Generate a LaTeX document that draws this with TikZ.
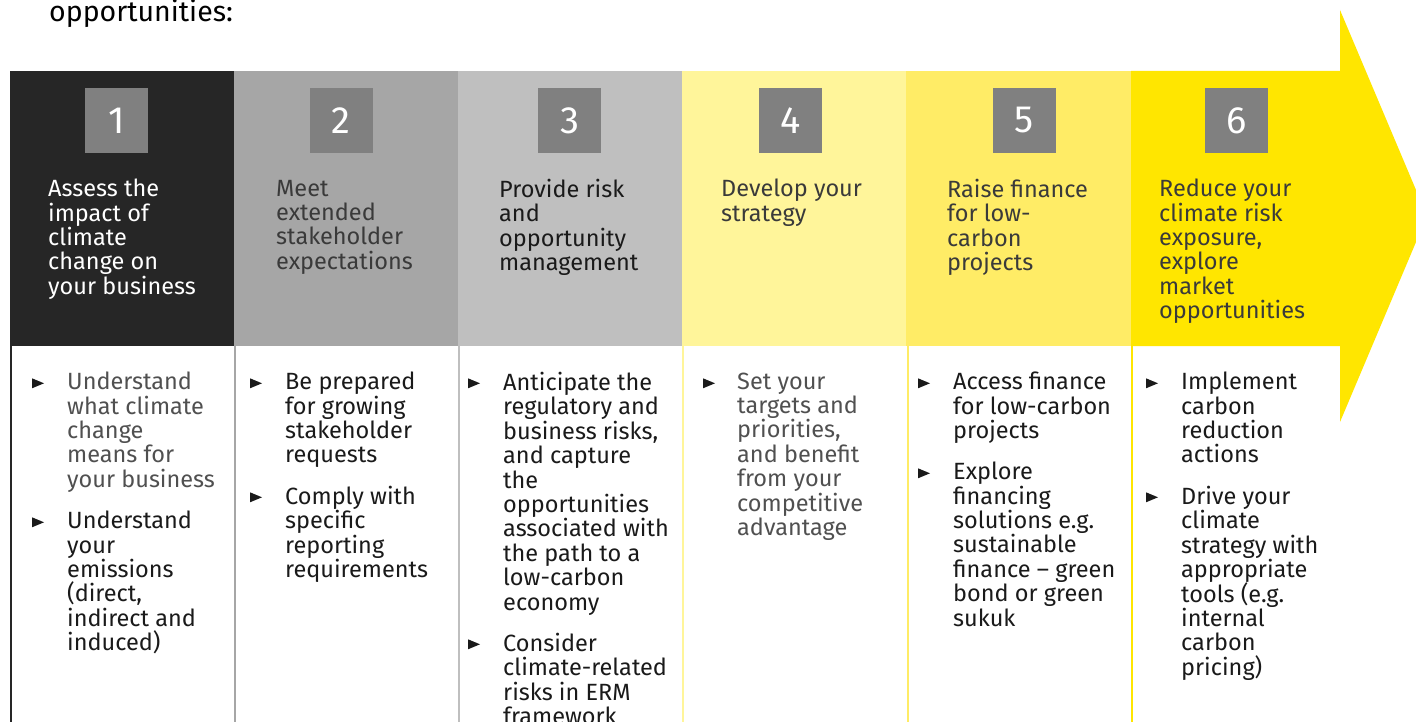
\documentclass[tikz,border=0pt]{standalone}
\usepackage{fontspec}
\setmainfont{Fira Sans}
\definecolor{c1}{HTML}{262626}
\definecolor{c2}{HTML}{A6A6A6}
\definecolor{c3}{HTML}{BFBFBF}
\definecolor{c4}{HTML}{FFF59A}
\definecolor{c5}{HTML}{FFEC66}
\definecolor{c6}{HTML}{FFE600}
\definecolor{numgray}{HTML}{808080}
\definecolor{txtdark}{HTML}{1A1A1A}
\definecolor{txtmid}{HTML}{3A3A3A}
\definecolor{txtgray}{HTML}{505050}
\newcommand\bullettri[2]{\fill[txtdark] (#1,#2-10.7) -- ++(12,5) -- ++(-12,5) -- cycle;}
\newcommand\txtfont{\fontsize{23.5}{24.4}\selectfont\lineskiplimit-50pt\relax\lineskip0pt\relax}
\begin{document}
\begin{tikzpicture}[x=1pt,y=-1pt,
  numbox/.style={fill=numgray, minimum width=63pt, minimum height=65pt, inner sep=0pt, text=white, font=\fontsize{38}{40}\selectfont},
  txt/.style={anchor=north west, inner sep=0pt, align=left, font=\txtfont},
  sep/.style={line width=2pt}]
\useasboundingbox (0,0) rectangle (1416,722);
\clip (0,0) rectangle (1416,722);
\fill[white] (0,0) rectangle (1416,722);
% title fragment
\node[anchor=base west, inner sep=0pt, font=\fontsize{28.5}{30}\selectfont, text=black] (title) at (49,22) {opportunities:};
% header bands
\fill[c1] (10,71) rectangle (234,346);
\fill[c2] (234,71) rectangle (458,346);
\fill[c3] (458,71) rectangle (682,346);
\fill[c4] (682,71) rectangle (906,346);
\fill[c5] (906,71) rectangle (1131,346);
\fill[c6] (1131,71) -- (1340,71) -- (1340,10) -- (1427,216) -- (1340,422) -- (1340,346) -- (1131,346) -- cycle;
% column separators in body
\draw[sep, c1] (11,346) -- (11,722);
\draw[sep, c2] (235,346) -- (235,722);
\draw[sep, c3] (459,346) -- (459,722);
\draw[sep, c4] (683,346) -- (683,722);
\draw[sep, c5] (908,346) -- (908,722);
\draw[sep, c6] (1132,346) -- (1132,722);
% number boxes
\node[numbox] (n1) at (116.5,120.5) {1};
\node[numbox] (n2) at (341,120.5) {2};
\node[numbox] (n3) at (569.5,120.5) {3};
\node[numbox] (n4) at (790.5,120.5) {4};
\node[numbox] (n5) at (1024,120.5) {5};
\node[numbox] (n6) at (1236.5,120.5) {6};
% header texts (first baseline 196)
\node[txt, text=white] (t1) at (48,178.9) {\strut Assess the\\impact of\\climate\\change on\\your business};
\node[txt, text=txtmid] (t2) at (276,178.9) {\strut Meet\\extended\\stakeholder\\expectations};
\node[txt, text=txtdark] (t3) at (499,178.9) {\strut Provide risk\\and\\opportunity\\management};
\node[txt, text=txtmid] (t4) at (721,178.9) {\strut Develop your\\strategy};
\node[txt, text=txtmid] (t5) at (947,178.9) {\strut Raise finance\\for low-\\carbon\\projects};
\node[txt, text=txtmid] (t6) at (1159,178.9) {\strut Reduce your\\climate risk\\exposure,\\explore\\market\\opportunities};
% body column 1
\bullettri{32}{389}
\node[txt, text=txtgray] (b1a) at (67,371.9) {\strut Understand\\what climate\\change\\means for\\your business};
\bullettri{32}{528}
\node[txt, text=txtdark] (b1b) at (67,510.9) {\strut Understand\\your\\emissions\\(direct,\\indirect and\\induced)};
% body column 2
\bullettri{250}{389}
\node[txt, text=txtdark] (b2a) at (285,371.9) {\strut Be prepared\\for growing\\stakeholder\\requests};
\bullettri{250}{503}
\node[txt, text=txtdark] (b2b) at (285,485.9) {\strut Comply with\\specific\\reporting\\requirements};
% body column 3
\bullettri{468}{389}
\node[txt, text=txtdark] (b3a) at (503,371.9) {\strut Anticipate the\\regulatory and\\business risks,\\and capture\\the\\opportunities\\associated with\\the path to a\\low-carbon\\economy};
\bullettri{468}{650}
\node[txt, text=txtdark] (b3b) at (503,632.9) {\strut Consider\\climate-related\\risks in ERM\\framework};
% body column 4
\bullettri{703}{389}
\node[txt, text=txtgray] (b4a) at (737,371.9) {\strut Set your\\targets and\\priorities,\\and benefit\\from your\\competitive\\advantage};
% body column 5
\bullettri{918}{389}
\node[txt, text=txtdark] (b5a) at (953,371.9) {\strut Access finance\\for low-carbon\\projects};
\bullettri{918}{479}
\node[txt, text=txtdark] (b5b) at (953,461.9) {\strut Explore\\financing\\solutions e.g.\\sustainable\\finance – green\\bond or green\\sukuk};
% body column 6
\bullettri{1146}{389}
\node[txt, text=txtdark] (b6a) at (1181,371.9) {\strut Implement\\carbon\\reduction\\actions};
\bullettri{1146}{503}
\node[txt, text=txtdark] (b6b) at (1181,485.9) {\strut Drive your\\climate\\strategy with\\appropriate\\tools (e.g.\\internal\\carbon\\pricing)};
\end{tikzpicture}
\end{document}
